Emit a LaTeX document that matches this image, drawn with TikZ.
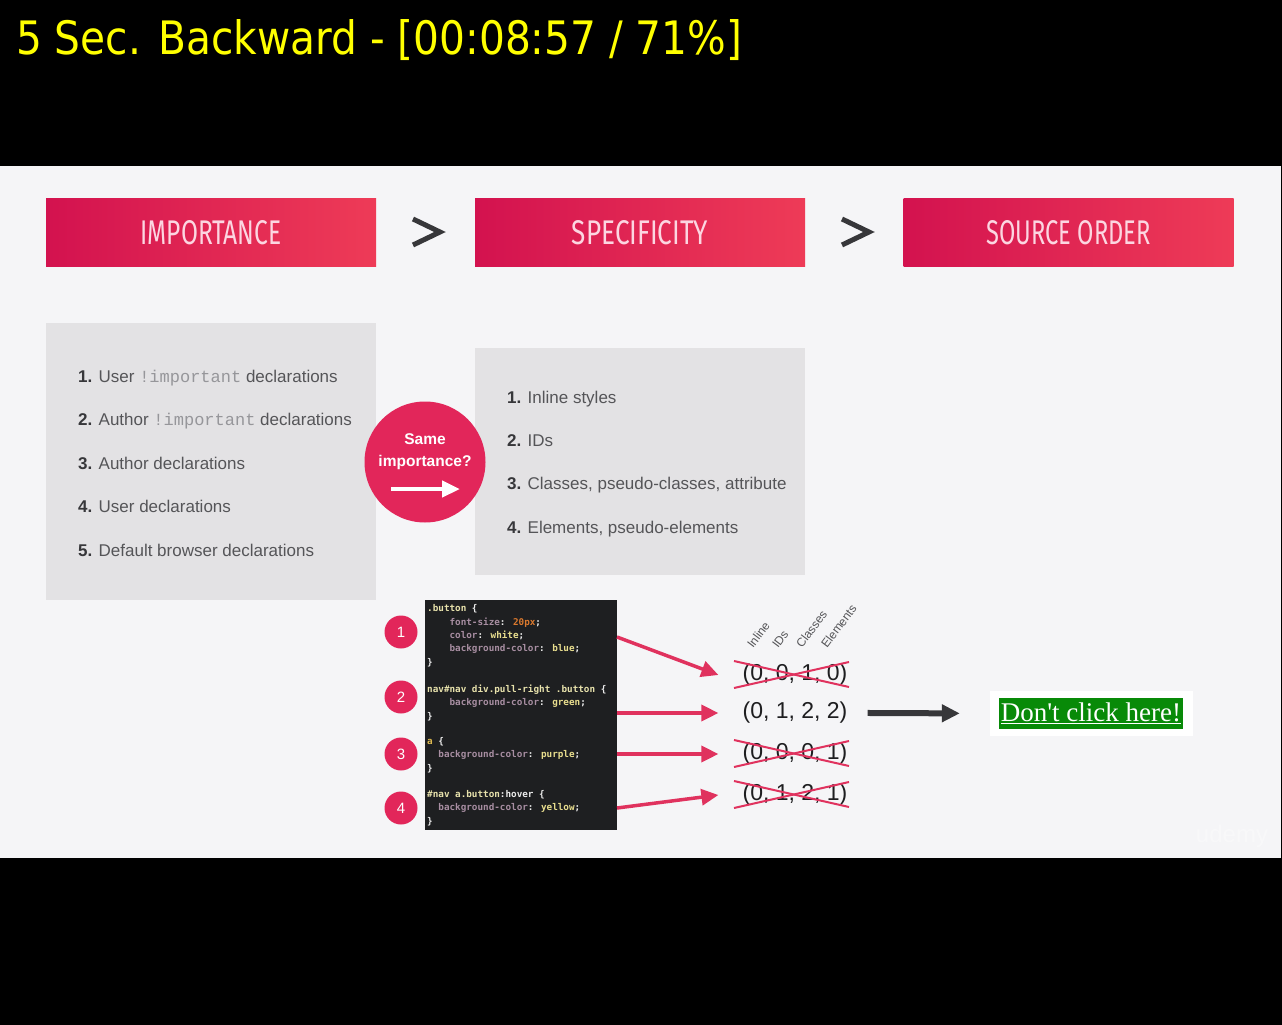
\documentclass[tikz,border=0pt]{standalone}
\usepackage{fontspec}
\usepackage{graphicx}
\usetikzlibrary{positioning,arrows.meta,calc}
\setmainfont{Liberation Sans}
\newfontfamily\titlefont{DejaVu Sans}
\newfontfamily\headfont{Fira Sans}
\newfontfamily\codefont{DejaVu Sans Mono}
\newfontfamily\impfont{Liberation Mono}
\newfontfamily\btnfont{Liberation Serif}[Ligatures=TeXOff]
\definecolor{csYellow}{RGB}{255,255,0}
\definecolor{csSlide}{RGB}{245,245,247}
\definecolor{csBox}{RGB}{227,226,228}
\definecolor{csRedL}{RGB}{211,18,79}
\definecolor{csRedR}{RGB}{238,59,87}
\definecolor{csRed}{RGB}{226,38,90}
\definecolor{csArrow}{RGB}{224,50,94}
\definecolor{csPink}{RGB}{252,214,225}
\definecolor{csText}{RGB}{85,85,88}
\definecolor{csNum}{RGB}{55,55,58}
\definecolor{csImp}{RGB}{150,150,154}
\definecolor{csDark}{RGB}{55,55,58}
\definecolor{csTuple}{RGB}{30,30,32}
\definecolor{codeBg}{RGB}{30,31,33}
\definecolor{codeTxt}{RGB}{236,236,236}
\definecolor{codeSel}{RGB}{232,226,172}
\definecolor{codeA}{RGB}{222,186,80}
\definecolor{codeProp}{RGB}{168,142,162}
\definecolor{codeVal}{RGB}{233,222,142}
\definecolor{codeNum}{RGB}{221,122,46}
\definecolor{btnGreen}{RGB}{8,138,8}
\newcommand{\imp}{{\impfont\color{csImp}!important}}
\newcommand{\headtext}[2]{\resizebox{#1}{24pt}{\headfont #2}}

\begin{document}
\begin{tikzpicture}[x=1pt, y=-1pt,
  headbox/.style={rectangle, inner sep=0pt, minimum width=330pt, minimum height=68pt,
    left color=csRedL, right color=csRedR, text=csPink},
  listbox/.style={rectangle, fill=csBox, inner sep=0pt},
  gt/.style={draw=csDark, line width=5pt, line join=miter},
  item/.style={anchor=base west, inner sep=0pt, text=csText, font=\fontsize{17}{20}\selectfont},
  codeline/.style={anchor=base west, align=left, inner sep=0pt, text=codeTxt,
    font=\codefont\bfseries\fontsize{9.3}{13.3}\selectfont},
  numdot/.style={circle, fill=csRed, text=white, minimum size=33pt, inner sep=0pt,
    font=\fontsize{15}{18}\selectfont},
  tuple/.style={inner xsep=24pt, inner ysep=0pt, text=csTuple, font=\fontsize{23}{26}\selectfont},
  colhead/.style={rotate=53, anchor=base west, inner sep=0pt, text=csText,
    font=\fontsize{12}{14}\selectfont},
  redarrow/.style={draw=csArrow, line width=3.5pt, -{Triangle[length=17pt,width=16pt]}},
  cross/.style={draw=csArrow, line width=2pt}
]
  \useasboundingbox (0,0) rectangle (1282,1025);
  \fill[black] (0,0) rectangle (1282,1025);
  \fill[csSlide] (0,166) rectangle (1281,858);

  % Player overlay
  \node[anchor=base west, inner sep=0pt, text=csYellow] (ttl) at (16,55)
    {\resizebox{726pt}{35pt}{\titlefont 5 Sec. Backward - [00:08:57 / 71\%]}};

  % Heading boxes
  \node[headbox] (imp) at (211,232.5) {\headtext{141pt}{IMPORTANCE}};
  \node[headbox] (spec) at (640,232.5) {\headtext{136pt}{SPECIFICITY}};
  \node[headbox] (src) at (1068.5,232.5) {\headtext{164pt}{SOURCE ORDER}};
  \draw[gt] (413,219) -- (440,232) -- (413,245);
  \draw[gt] (842,219) -- (869,232) -- (842,245);

  % Importance list
  \node[listbox, minimum width=330pt, minimum height=277pt] (implist) at (211,461.5) {};
  \node[item] (i1) at (78,382) {\textbf{\color{csNum}1.} User \imp{} declarations};
  \node[item] (i2) at (78,425) {\textbf{\color{csNum}2.} Author \imp{} declarations};
  \node[item] (i3) at (78,469) {\textbf{\color{csNum}3.} Author declarations};
  \node[item] (i4) at (78,512) {\textbf{\color{csNum}4.} User declarations};
  \node[item] (i5) at (78,556) {\textbf{\color{csNum}5.} Default browser declarations};

  % Specificity list
  \node[listbox, minimum width=330pt, minimum height=227pt] (speclist) at (640,461.5) {};
  \node[item] (s1) at (507,403) {\textbf{\color{csNum}1.} Inline styles};
  \node[item] (s2) at (507,446) {\textbf{\color{csNum}2.} IDs};
  \node[item] (s3) at (507,489) {\textbf{\color{csNum}3.} Classes, pseudo-classes, attribute};
  \node[item] (s4) at (507,533) {\textbf{\color{csNum}4.} Elements, pseudo-elements};

  % Same importance?
  \node[circle, fill=csRed, minimum size=121pt, inner sep=0pt] (same) at (425,462) {};
  \node[align=center, text=white, font=\bfseries\fontsize{15.5}{22}\selectfont] (sametxt)
    at (425,452) {Same\\importance?};
  \coordinate (sa1) at (391,489);
  \coordinate (sa2) at (460,489);
  \draw[white, line width=4.5pt, -{Triangle[length=18pt,width=16pt]}] (sa1) -- (sa2);

  % Code sample (base = last line)
  \node[fill=codeBg, minimum width=192pt, minimum height=230pt, inner sep=0pt] (code) at (521,715) {};
  \node[codeline] (cb1) at (427,665) {%
    {\color{codeSel}.button} \{\\
    \hspace*{22.4pt}{\color{codeProp}font-size}: {\color{codeNum}20px};\\
    \hspace*{22.4pt}{\color{codeProp}color}: {\color{codeVal}white};\\
    \hspace*{22.4pt}{\color{codeProp}background-color}: {\color{codeVal}blue};\\
    \}};
  \node[codeline] (cb2) at (427,719) {%
    {\color{codeSel}nav\#nav div.pull-right .button} \{\\
    \hspace*{22.4pt}{\color{codeProp}background-color}: {\color{codeVal}green};\\
    \}};
  \node[codeline] (cb3) at (427,771) {%
    {\color{codeA}a} \{\\
    \hspace*{11.2pt}{\color{codeProp}background-color}: {\color{codeVal}purple};\\
    \}};
  \node[codeline] (cb4) at (427,824) {%
    {\color{codeSel}\#nav a.button}:hover \{\\
    \hspace*{11.2pt}{\color{codeProp}background-color}: {\color{codeVal}yellow};\\
    \}};

  % Rule numbers
  \node[numdot] (n1) at (401,632) {1};
  \node[numdot] (n2) at (401,697) {2};
  \node[numdot] (n3) at (401,754) {3};
  \node[numdot] (n4) at (401,808) {4};

  % Specificity values
  \node[colhead] (hinl) at (753,649) {Inline};
  \node[colhead] (hids) at (778,649) {IDs};
  \node[colhead] (hcls) at (802,649) {Classes};
  \node[colhead] (helm) at (827,649) {Elements};
  \node[tuple] (t1) at (795,675) {(0, 0, 1, 0)};
  \node[tuple] (t2) at (795,713) {(0, 1, 2, 2)};
  \node[tuple] (t3) at (795,754) {(0, 0, 0, 1)};
  \node[tuple] (t4) at (795,795) {(0, 1, 2, 1)};
  \foreach \t in {t1,t3,t4} {
    \draw[cross] ($(\t.center)+(-61,-14)$) -- ($(\t.center)+(54,12)$);
    \draw[cross] ($(\t.center)+(-61,13)$) -- ($(\t.center)+(54,-13)$);
  }

  \coordinate (a1) at (617,637);
  \coordinate (a4) at (617,808);
  \draw[redarrow] (a1) -- (t1.west);
  \draw[redarrow] (code.east |- t2.west) -- (t2.west);
  \draw[redarrow] (code.east |- t3.west) -- (t3.west);
  \draw[redarrow] (a4) -- (t4.west);

  % Result
  \node[fill=white, minimum width=203pt, minimum height=45pt, inner sep=0pt] (btnbox) at (1091.5,713.5) {};
  \node[fill=btnGreen, text=white, minimum width=184pt, minimum height=31pt, inner sep=0pt,
    font=\btnfont\fontsize{27}{30}\selectfont] (btn) at (1091,713.5) {\underline{Don't click here!}};
  \draw[draw=csDark, line width=6pt, -{Triangle[length=18pt,width=17pt]}, shorten >=30pt,
    shorten <=-4pt] (t2.east) -- (btnbox.west);

  \node[text=white, opacity=0.35, font=\fontsize{24}{26}\selectfont] (wm) at (1232,836) {udemy};
\end{tikzpicture}
\end{document}
